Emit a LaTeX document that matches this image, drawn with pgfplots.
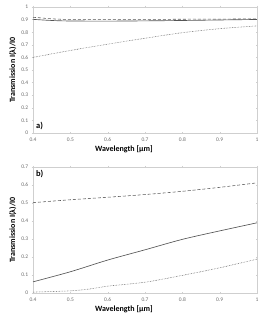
\documentclass[border=0pt]{standalone}
\usepackage{fontspec}
\setmainfont{Carlito}
\usepackage{pgfplots}
\pgfplotsset{compat=1.18}
\definecolor{axgray}{HTML}{CFCFCF}
\definecolor{txtgray}{HTML}{6A6A6A}
\definecolor{lngray}{HTML}{555555}
\pgfplotsset{
  mystyle/.style={
    scale only axis, width=224pt, height=126pt,
    xmin=0.4, xmax=1, xtick={0.4,0.5,...,1.01},
    axis line style={axgray},
    tick style={axgray, major tick length=2.5pt},
    tick align=center,
    xtick pos=both, ytick pos=both,
    yticklabel pos=left, xticklabel pos=bottom,
    ticklabel style={font=\fontsize{5.5}{6}\selectfont, text=txtgray},
    /pgf/number format/assume math mode=true,
    xlabel={\textbf{Wavelength [µm]}},
    ylabel={\textbf{Transmission I(λ)/I0}},
    label style={font=\fontsize{8}{9}\selectfont},
    xlabel style={at={(ticklabel cs:0.406)}, anchor=near ticklabel, yshift=3pt},
    ylabel style={yshift=-2pt},
    clip=false,
  }
}
\begin{document}
\begin{tikzpicture}[x=1pt,y=1pt]
\path (0,0) rectangle (270,322);
\begin{axis}[mystyle, at={(33pt,189pt)}, anchor=south west,
  ymin=0, ymax=1, ytick={0,0.1,...,1.01},
  yticklabels={0,0.1,0.2,0.3,0.4,0.5,0.6,0.7,0.8,0.9,1},
  xticklabels={0.4,0.5,0.6,0.7,0.8,0.9,1}]
\addplot[lngray, line width=0.65pt, smooth] coordinates {(0.4,0.902)(0.45,0.893)(0.5,0.889)(0.6,0.888)(0.7,0.890)(0.8,0.893)(0.9,0.897)(1.0,0.901)};
\addplot[lngray, line width=0.55pt, densely dashed, smooth] coordinates {(0.4,0.918)(0.42,0.914)(0.45,0.906)(0.5,0.902)(0.7,0.902)(0.9,0.904)(1.0,0.906)};
\addplot[lngray, line width=0.55pt, densely dotted, smooth] coordinates {(0.4,0.600)(0.5,0.655)(0.6,0.705)(0.7,0.752)(0.8,0.796)(0.9,0.828)(1.0,0.850)};
\node[anchor=south west, font=\bfseries\fontsize{8.5}{9}\selectfont, inner sep=1pt] at (axis cs:0.405,0.015) {a)};
\end{axis}
\begin{axis}[mystyle, at={(33pt,29pt)}, anchor=south west,
  ymin=0, ymax=0.7, ytick={0,0.1,...,0.71},
  yticklabels={0,0.1,0.2,0.3,0.4,0.5,0.6,0.7},
  xticklabels={0.4,0.5,0.6,0.7,0.8,0.9,1}]
\addplot[lngray, line width=0.65pt, smooth] coordinates {(0.4,0.062)(0.5,0.118)(0.6,0.183)(0.7,0.240)(0.8,0.298)(0.9,0.345)(1.0,0.390)};
\addplot[lngray, line width=0.55pt, densely dashed, smooth] coordinates {(0.4,0.502)(0.5,0.518)(0.6,0.532)(0.7,0.547)(0.8,0.565)(0.9,0.587)(1.0,0.612)};
\addplot[lngray, line width=0.55pt, densely dotted, smooth] coordinates {(0.4,0.005)(0.5,0.012)(0.55,0.022)(0.6,0.038)(0.7,0.060)(0.8,0.098)(0.9,0.140)(1.0,0.188)};
\node[anchor=north west, font=\bfseries\fontsize{8.5}{9}\selectfont, inner sep=1pt] at (axis cs:0.405,0.69) {b)};
\end{axis}
\end{tikzpicture}
\end{document}
